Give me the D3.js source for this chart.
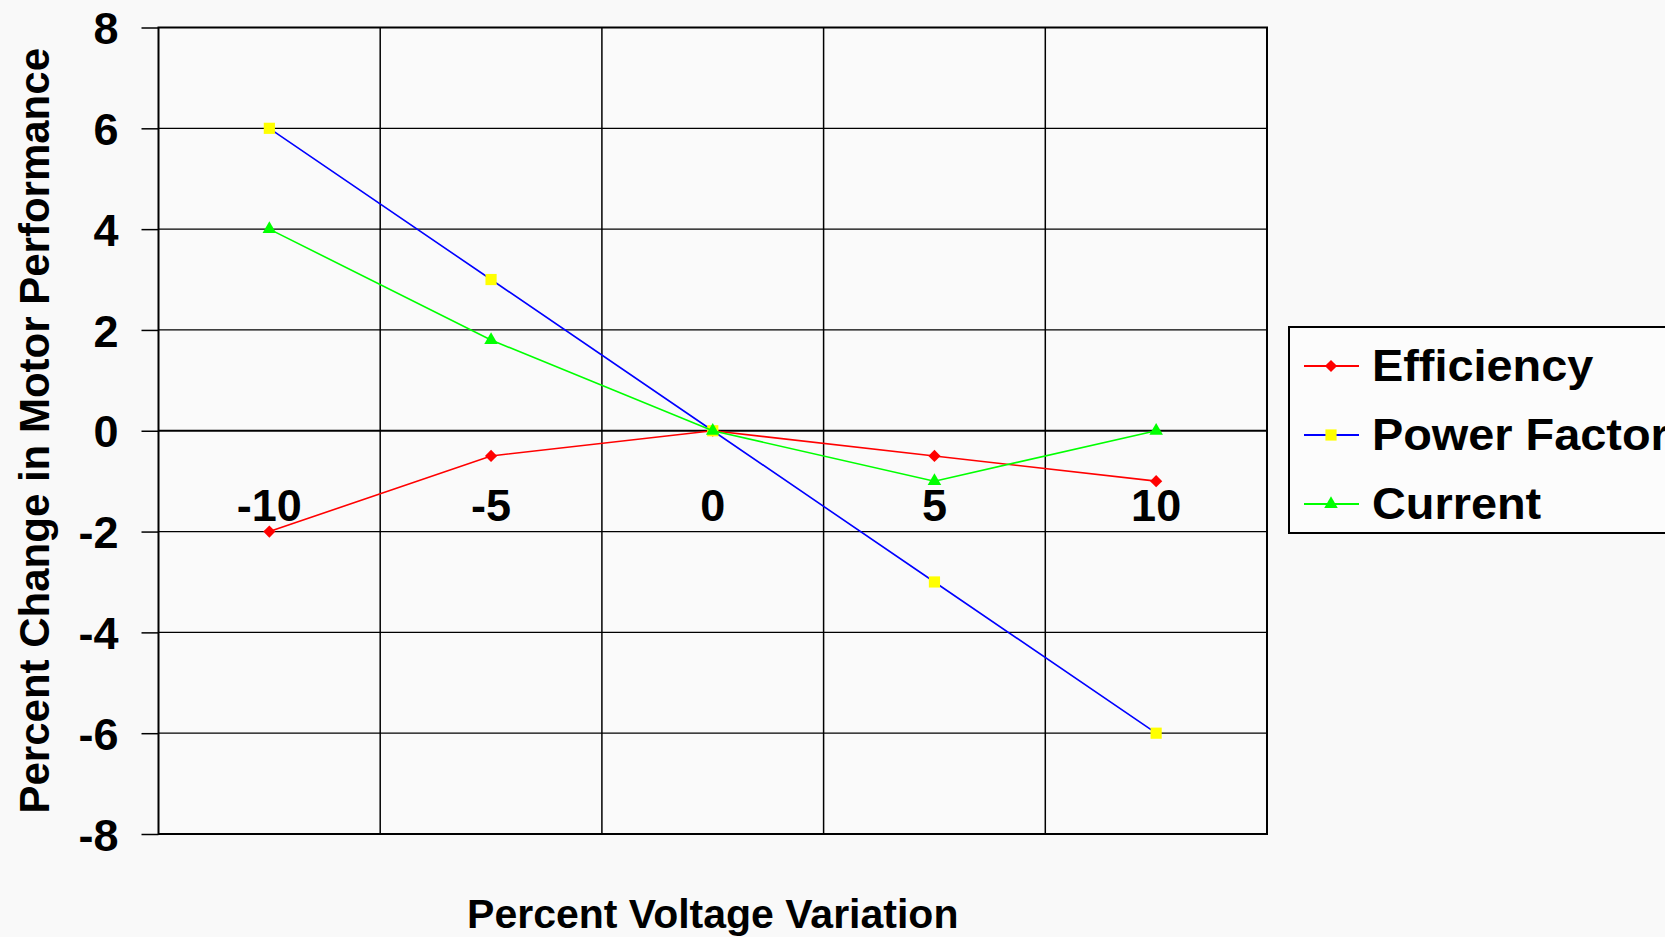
<!DOCTYPE html>
<html>
<head>
<meta charset="utf-8">
<script src="https://cdn.jsdelivr.net/npm/d3@7"></script>
<style>
  html, body { margin: 0; padding: 0; background: #f9f9f9; }
  svg { display: block; }
  text { font-family: "Liberation Sans", Arial, Helvetica, sans-serif; font-weight: bold; fill: #000; }
</style>
</head>
<body>
<svg id="chart" width="1665" height="937"></svg>
<script>
// Percent voltage variation (category axis)
const categories = ["-10", "-5", "0", "5", "10"];

// Percent change in motor performance for each series
const efficiency  = [-2, -0.5, 0, -0.5, -1];
const powerFactor = [6, 3, 0, -3, -6];
const current     = [4, 1.8, 0, -1, 0];

const yTicks = [8, 6, 4, 2, 0, -2, -4, -6, -8];

const seriesNames = ["Efficiency", "Power Factor", "Current"];

const series = [
  { name: seriesNames[0], values: efficiency,  line: "#ff0000", fill: "#ff0000", shape: "diamond" },
  { name: seriesNames[1], values: powerFactor, line: "#0000ff", fill: "#ffff00", shape: "square" },
  { name: seriesNames[2], values: current,     line: "#00ff00", fill: "#00ff00", shape: "triangle" }
];

const svg = d3.select("#chart");

const plot = { left: 158.5, right: 1267, top: 27.5, bottom: 834 };

const x = d3.scaleBand().domain(categories).range([plot.left, plot.right]).paddingInner(0).paddingOuter(0);
const cx = c => x(c) + x.bandwidth() / 2;
const y = d3.scaleLinear().domain([-8, 8]).range([plot.bottom, plot.top]);

// Plot area background
svg.append("rect")
  .attr("x", plot.left).attr("y", plot.top)
  .attr("width", plot.right - plot.left).attr("height", plot.bottom - plot.top)
  .attr("fill", "#fafafa");

// Left axis with outward ticks; labels use a plain hyphen for negatives
const yAxis = d3.axisLeft(y).tickValues(yTicks).tickSize(17).tickPadding(23).tickFormat(d => String(d));
const gy = svg.append("g").attr("transform", `translate(${plot.left},0)`).call(yAxis);
gy.select(".domain").remove();
gy.selectAll(".tick line").attr("stroke", "#000").attr("stroke-width", 1.5);
gy.selectAll(".tick text").attr("font-size", 45).attr("fill", "#000")
  .attr("font-family", "'Liberation Sans', Arial, sans-serif").attr("font-weight", "bold").attr("dy", "0.36em");

// Horizontal gridlines
svg.append("g").selectAll("line")
  .data(yTicks.filter(v => v !== 0 && v !== 8 && v !== -8))
  .join("line")
  .attr("x1", plot.left).attr("x2", plot.right)
  .attr("y1", d => y(d)).attr("y2", d => y(d))
  .attr("stroke", "#000").attr("stroke-width", 1.3);

// Vertical gridlines at category boundaries
svg.append("g").selectAll("line")
  .data(categories.slice(1))
  .join("line")
  .attr("x1", d => x(d)).attr("x2", d => x(d))
  .attr("y1", plot.top).attr("y2", plot.bottom)
  .attr("stroke", "#000").attr("stroke-width", 1.5);

// Plot border
svg.append("rect")
  .attr("x", plot.left).attr("y", plot.top)
  .attr("width", plot.right - plot.left).attr("height", plot.bottom - plot.top)
  .attr("fill", "none").attr("stroke", "#000").attr("stroke-width", 2);

// Category axis crossing at zero
svg.append("line")
  .attr("x1", plot.left).attr("x2", plot.right)
  .attr("y1", y(0)).attr("y2", y(0))
  .attr("stroke", "#000").attr("stroke-width", 2.2);

svg.append("g").selectAll("text")
  .data(categories)
  .join("text")
  .attr("x", d => cx(d))
  .attr("y", y(0) + 90)
  .attr("text-anchor", "middle")
  .attr("font-size", 45)
  .text(d => d);

// Marker shapes
function markerPath(shape) {
  if (shape === "diamond") return d3.symbol(d3.symbolSquare, 74)();
  if (shape === "square") return d3.symbol(d3.symbolSquare, 125)();
  return d3.symbol(d3.symbolTriangle, 80)();
}

const line = d3.line().x((d, i) => cx(categories[i])).y(d => y(d));

series.forEach(s => {
  const g = svg.append("g");
  g.append("path")
    .attr("d", line(s.values))
    .attr("fill", "none")
    .attr("stroke", s.line)
    .attr("stroke-width", 1.6);
  g.selectAll("path.mk")
    .data(s.values)
    .join("path")
    .attr("class", "mk")
    .attr("d", markerPath(s.shape))
    .attr("transform", (d, i) => `translate(${cx(categories[i])},${y(d)})` + (s.shape === "diamond" ? " rotate(45)" : ""))
    .attr("fill", s.fill);
});

// Axis titles
svg.append("text")
  .attr("x", cx("0"))
  .attr("y", 928)
  .attr("text-anchor", "middle")
  .attr("font-size", 41)
  .text("Percent Voltage Variation");

svg.append("text")
  .attr("transform", `translate(49,${(plot.top + plot.bottom) / 2}) rotate(-90)`)
  .attr("text-anchor", "middle")
  .attr("font-size", 42)
  .text("Percent Change in Motor Performance");

// Legend
const legend = svg.append("g");
legend.append("rect")
  .attr("x", 1289).attr("y", 327)
  .attr("width", 420).attr("height", 206)
  .attr("fill", "#fcfcfc").attr("stroke", "#000").attr("stroke-width", 2);

const rowY = d3.scalePoint().domain(seriesNames).range([366, 504]);

series.forEach(s => {
  const ry = rowY(s.name);
  legend.append("line")
    .attr("x1", 1304).attr("x2", 1359)
    .attr("y1", ry).attr("y2", ry)
    .attr("stroke", s.line).attr("stroke-width", 1.8);
  legend.append("path")
    .attr("d", markerPath(s.shape))
    .attr("transform", `translate(1331,${ry})` + (s.shape === "diamond" ? " rotate(45)" : ""))
    .attr("fill", s.fill);
  legend.append("text")
    .attr("transform", `translate(1372,${ry + 15}) scale(1.065,1)`)
    .attr("font-size", 44)
    .text(s.name);
});
</script>
</body>
</html>
